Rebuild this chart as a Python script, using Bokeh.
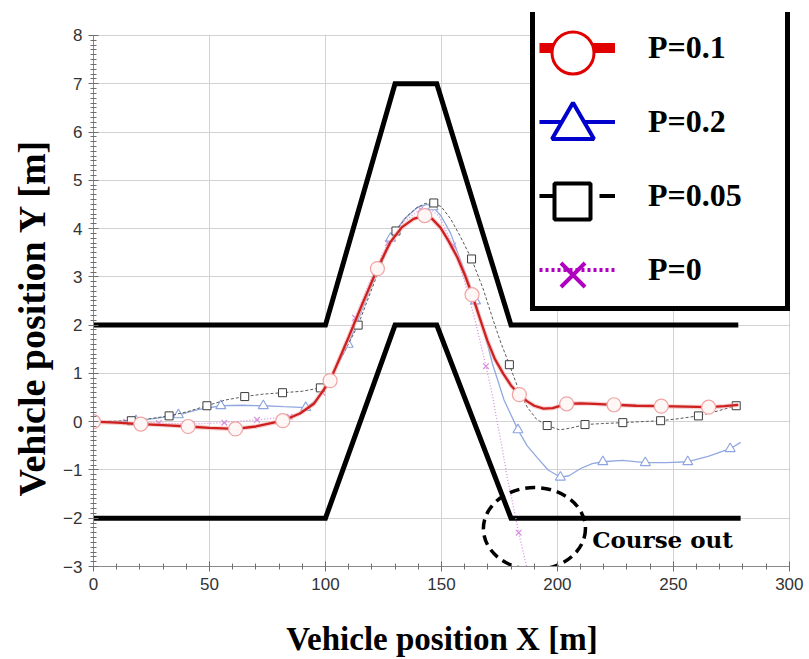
from bokeh.plotting import figure
from bokeh.models import (Range1d, SingleIntervalTicker, Legend, LegendItem, Label,
                          BoxAnnotation, Title)
from bokeh.embed import file_html
from bokeh.resources import INLINE

# ---- course boundaries (lane change course) ----
upper_x = [0, 100, 130, 148, 180, 278]
upper_y = [2, 2, 7, 7, 2, 2]
lower_x = [0, 100, 130, 148, 180, 279]
lower_y = [-2, -2, 2, 2, -2, -2]

# ---- P = 0.1 trajectory ----
p01_x = [0, 10, 20.4, 30, 40.8, 50, 61.2, 70, 81.6, 89, 95, 102, 106, 110, 116, 122.4,
         128, 133, 138, 142.8, 146, 149.6, 153, 156.9, 160, 163.2, 166.5, 169.8, 173,
         176.7, 180, 183.6, 187, 190, 194, 198, 204, 210, 216, 224.4, 234, 244.8, 255,
         265.2, 272, 278]
p01_y = [0, -0.02, -0.05, -0.07, -0.1, -0.13, -0.15, -0.1, 0.02, 0.17, 0.37, 0.85, 1.3,
         1.75, 2.45, 3.17, 3.72, 4.03, 4.2, 4.27, 4.2, 4.02, 3.75, 3.4, 3.05, 2.63, 2.15,
         1.68, 1.3, 0.99, 0.75, 0.56, 0.42, 0.33, 0.27, 0.28, 0.37, 0.38, 0.37, 0.35, 0.33,
         0.32, 0.31, 0.3, 0.32, 0.35]
p01_mx = [0, 20.4, 40.8, 61.2, 81.6, 102, 122.4, 142.8, 163.2, 183.6, 204, 224.4, 244.8, 265.2]
p01_my = [0, -0.05, -0.1, -0.15, 0.02, 0.85, 3.17, 4.27, 2.63, 0.56, 0.37, 0.35, 0.32, 0.3]

# ---- P = 0.2 trajectory ----
p02_x = [0, 9, 18.3, 27, 36.6, 45, 54.9, 64, 73.2, 82, 91.5, 96, 101, 105, 109.8, 115, 120,
         128.1, 134, 140, 144, 146.4, 150, 154, 157, 161, 164.7, 168, 172, 177, 183, 187,
         191.4, 196, 201.3, 205, 210, 215, 219.6, 228, 237.9, 247, 256.2, 265, 274.5, 279]
p02_y = [0, 0.0, 0.02, 0.07, 0.14, 0.25, 0.33, 0.34, 0.33, 0.31, 0.29, 0.45, 0.8, 1.15, 1.6,
         2.22, 2.83, 3.8, 4.2, 4.45, 4.5, 4.45, 4.25, 3.9, 3.5, 3.0, 2.5, 1.95, 1.2, 0.45,
         -0.17, -0.5, -0.75, -1.0, -1.15, -1.12, -0.97, -0.87, -0.83, -0.8, -0.85, -0.85,
         -0.83, -0.72, -0.56, -0.43]
p02_mx = [0, 18.3, 36.6, 54.9, 73.2, 91.5, 109.8, 128.1, 146.4, 164.7, 183, 201.3, 219.6,
          237.9, 256.2, 274.5]
p02_my = [0, 0.02, 0.14, 0.33, 0.33, 0.29, 1.6, 3.8, 4.45, 2.5, -0.17, -1.15, -0.83, -0.85,
          -0.83, -0.56]

# ---- P = 0.05 trajectory ----
p005_x = [0, 8, 16.3, 24, 32.6, 40, 48.9, 57, 65.2, 73, 81.5, 90, 97.8, 102, 106, 110, 114.1,
          118, 122, 126, 130.4, 135, 139, 143, 146.7, 150, 154, 158, 163, 168, 172, 175.5,
          179.3, 183, 187, 191, 195.6, 201, 206, 211.9, 219, 228.2, 236, 244.5, 252, 260.8,
          269, 277.1]
p005_y = [0, 0.01, 0.02, 0.06, 0.12, 0.2, 0.33, 0.45, 0.52, 0.57, 0.6, 0.63, 0.7, 0.9, 1.25,
          1.62, 2.0, 2.5, 3.0, 3.5, 3.95, 4.25, 4.42, 4.52, 4.53, 4.45, 4.2, 3.85, 3.37, 2.75,
          2.15, 1.65, 1.18, 0.7, 0.3, 0.05, -0.08, -0.17, -0.13, -0.06, -0.04, -0.02, 0.0,
          0.02, 0.06, 0.12, 0.22, 0.33]
p005_mx = [0, 16.3, 32.6, 48.9, 65.2, 81.5, 97.8, 114.1, 130.4, 146.7, 163, 179.3, 195.6,
           211.9, 228.2, 244.5, 260.8, 277.1]
p005_my = [0, 0.02, 0.12, 0.33, 0.52, 0.6, 0.7, 2.0, 3.95, 4.53, 3.37, 1.18, -0.08, -0.06,
           -0.02, 0.02, 0.12, 0.33]

# ---- P = 0 trajectory (leaves the course) ----
p0_x = [0, 14.1, 28.2, 42.3, 56.4, 70.5, 84.6, 92, 98.7, 106, 112.8, 120, 126.9, 134, 141,
        145, 149, 155.1, 160, 164, 167, 169.2, 172, 174, 176, 178.4, 181, 183.3, 186, 189]
p0_y = [0, 0, -0.03, -0.05, -0.02, 0.04, 0.1, 0.25, 0.6, 1.3, 2.15, 3.0, 3.7, 4.15, 4.4,
        4.42, 4.25, 3.65, 2.9, 2.2, 1.6, 1.15, 0.55, 0.0, -0.5, -1.16, -1.75, -2.3, -2.85, -3.4]
p0_mx = [0, 14.1, 28.2, 42.3, 56.4, 70.5, 84.6, 98.7, 112.8, 126.9, 141, 155.1, 169.2, 183.3]
p0_my = [0, 0, -0.03, -0.05, -0.02, 0.04, 0.1, 0.6, 2.15, 3.7, 4.4, 3.65, 1.15, -2.3]

# course-out highlight
out_x, out_y, out_w, out_h = 190.1, -2.215, 44, 1.7
out_text = "Course out"
out_text_x, out_text_y = 215, -2.44

# axes
x_start, x_end = 0, 300
y_start, y_end = -3, 8
x_major, x_minor = 50, 5
y_major, y_minor = 1, 10
x_label = "Vehicle position X [m]"
y_label = "Vehicle position Y [m]"

# ---- layout (pixels) ----
W, H = 809, 659
FL, FR, FT, FB = 93, 790, 12, 567          # plot frame; extra room on top for the legend
PX_PER_Y = (FB - 35) / (y_end - y_start)   # y = 8 sits 23 px below the frame top
y_room = y_end + (35 - FT) / PX_PER_Y
x_room = x_end + 0.5

p = figure(width=W, height=H, output_backend="svg", toolbar_location=None,
           x_range=Range1d(x_start, x_room), y_range=Range1d(y_start, y_room),
           min_border_left=FL, min_border_right=W - FR,
           min_border_top=FT, min_border_bottom=H - FB)
p.background_fill_color = "white"
p.border_fill_color = "white"
p.outline_line_color = None

xt = SingleIntervalTicker(interval=x_major, num_minor_ticks=x_minor)
yt = SingleIntervalTicker(interval=y_major, num_minor_ticks=y_minor)
p.xaxis[0].ticker = xt
p.xgrid[0].ticker = xt
p.yaxis[0].ticker = yt
p.ygrid[0].ticker = yt
p.xaxis[0].bounds = (x_start, x_end)
p.yaxis[0].bounds = (y_start, y_end)
for g in (p.xgrid[0], p.ygrid[0]):
    g.grid_line_color = "#d2d2d2"
    g.grid_line_width = 1

for ax in (p.xaxis[0], p.yaxis[0]):
    ax.axis_line_color = "#8a8a8a"
    ax.major_tick_line_color = "#6e6e6e"
    ax.minor_tick_line_color = "#6e6e6e"
    ax.major_tick_in = 5
    ax.major_tick_out = 5
    ax.minor_tick_in = 3
    ax.minor_tick_out = 3
    ax.major_label_text_font = "Liberation Sans"
    ax.major_label_text_font_size = "17px"
    ax.major_label_text_color = "#333333"
    ax.major_label_standoff = 6
    ax.axis_label_text_font = "Liberation Serif"
    ax.axis_label_text_font_style = "bold"
    ax.axis_label_text_color = "black"

p.xaxis[0].axis_label = x_label
p.xaxis[0].axis_label_text_font_size = "33px"
p.xaxis[0].axis_label_standoff = 28

# y-axis title, placed along the y axis span rather than the taller frame
p.add_layout(Title(text=y_label, text_font="Liberation Serif", text_font_style="bold",
                   text_font_size="38px", text_color="black", align="left",
                   offset=70, standoff=15), "left")

# keep the grid from showing above the top of the y axis
p.add_layout(BoxAnnotation(left=x_start, right=x_room, bottom=y_end + 0.02, top=y_room + 1,
                           fill_color="white", fill_alpha=1, line_alpha=0))

# course boundaries
p.line(upper_x, upper_y, line_color="black", line_width=5, line_join="miter")
p.line(lower_x, lower_y, line_color="black", line_width=5, line_join="miter")

# trajectories
p.line(p0_x, p0_y, line_color="#d88ee0", line_width=1.3, line_dash="1 2")
p.scatter(p0_mx, p0_my, marker="x", size=8, line_color="#d88ee0", line_width=1.2)

p.line(p02_x, p02_y, line_color="#92a9e0", line_width=1.3)
p.scatter(p02_mx, p02_my, marker="triangle", size=10, line_color="#8ea4e0",
          fill_color="white", line_width=1.1)

p.line(p005_x, p005_y, line_color="#5a5a5a", line_width=1, line_dash="3 2")
p.scatter(p005_mx, p005_my, marker="square", size=8, line_color="#3c3c3c",
          fill_color="white", line_width=1)

p.line(p01_x, p01_y, line_color="#f2b0b0", line_width=4.5, line_alpha=0.6)
p.line(p01_x, p01_y, line_color="#cf2020", line_width=2.3)
p.scatter(p01_mx, p01_my, marker="circle", size=14, line_color="#f0a4a4",
          fill_color="#fff6f6", line_width=1.2)

# course-out mark
p.ellipse(x=[out_x], y=[out_y], width=out_w, height=out_h, fill_alpha=0,
          line_color="black", line_width=3.5, line_dash="10 6")
p.add_layout(Label(x=out_text_x, y=out_text_y, text=out_text, text_font="DejaVu Serif",
                   text_font_size="23px", text_font_style="bold", text_color="black",
                   text_baseline="middle", text_align="left"))

# ---- legend (proxy renderers hold no drawable points) ----
NAN2 = [float("nan")] * 2
lg_red = p.line(NAN2, NAN2, line_color="#e00000", line_width=10)
lg_blue = p.line(NAN2, NAN2, line_color="#0000cc", line_width=4)
lg_black = p.line(NAN2, NAN2, line_color="black", line_width=4, line_dash="16 44")
lg_mag = p.line(NAN2, NAN2, line_color="#b000c0", line_width=4, line_dash="3 3")

mk_red = p.scatter(NAN2, NAN2, marker="circle", line_color="#e00000", fill_color="white", line_width=3)
mk_blue = p.scatter(NAN2, NAN2, marker="triangle", line_color="#0000cc", fill_color="white", line_width=4)
mk_black = p.scatter(NAN2, NAN2, marker="square", line_color="black", fill_color="white", line_width=4)
mk_mag = p.scatter(NAN2, NAN2, marker="x", line_color="#b000c0", line_width=4)

LEG_LEFT, LEG_TOP = 530, 17
PAD, GH, GW, SP = 4, 65, 76, 9
LEG_H = 2 * PAD + 4 * GH + 3 * SP

legend = Legend(
    items=[LegendItem(label="P=0.1", renderers=[lg_red]),
           LegendItem(label="P=0.2", renderers=[lg_blue]),
           LegendItem(label="P=0.05", renderers=[lg_black]),
           LegendItem(label="P=0", renderers=[lg_mag])],
    location=(LEG_LEFT - FL, FB - LEG_TOP - LEG_H), margin=0,
    padding=PAD, spacing=SP, glyph_height=GH, glyph_width=GW,
    label_standoff=33, label_width=133,
    label_text_font="Liberation Serif", label_text_font_style="bold",
    label_text_font_size="32px", label_text_color="black",
    border_line_color="black", border_line_width=5, border_line_alpha=1,
    background_fill_color="white", background_fill_alpha=1,
)
p.add_layout(legend, "center")

# larger legend markers drawn over the legend lines
cx = LEG_LEFT + PAD + GW / 2
for i, (r, s) in enumerate([(mk_red, 42), (mk_blue, 42), (mk_black, 36), (mk_mag, 34)]):
    cy = LEG_TOP + PAD + GH / 2 + i * (GH + SP)
    L = int(round(s / 0.4))
    mleg = Legend(items=[LegendItem(label="", renderers=[r])],
                  location=(cx - L / 2 - FL, FB - (cy - L / 2) - L), margin=0,
                  padding=0, spacing=0, glyph_height=L, glyph_width=L,
                  label_standoff=0, label_width=0, label_height=0,
                  label_text_font_size="1px",
                  border_line_alpha=0, background_fill_alpha=0)
    p.add_layout(mleg, "center")

open("out.html", "w").write(file_html(p, INLINE))
